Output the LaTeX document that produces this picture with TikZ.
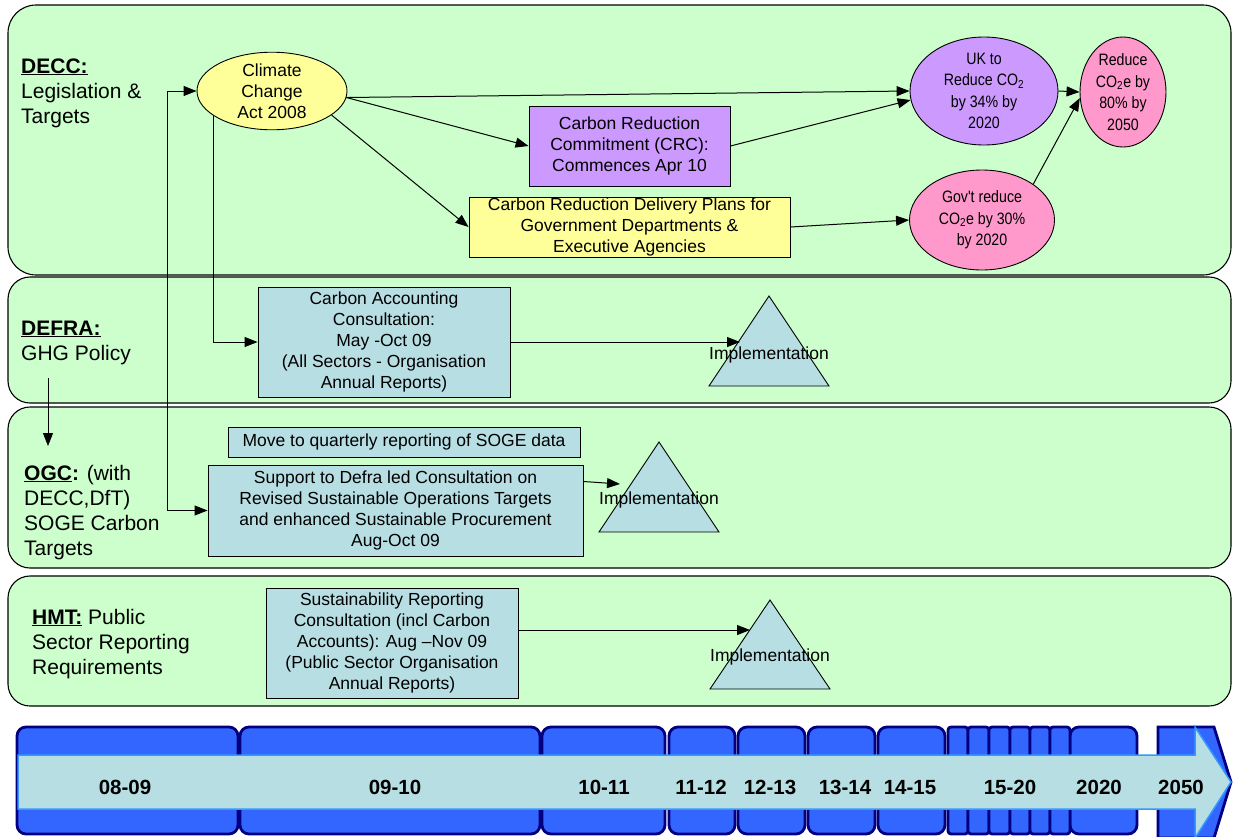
\documentclass[tikz,border=0pt]{standalone}
\usepackage{fontspec}
\setmainfont{Liberation Sans}
\newfontfamily\narrowfont[FakeStretch=0.86]{Liberation Sans}
\usetikzlibrary{arrows.meta,shapes.geometric}
\definecolor{lanegreen}{HTML}{CCFFCC}
\definecolor{boxblue}{HTML}{B7DEE3}
\definecolor{purp}{HTML}{CC99FF}
\definecolor{yel}{HTML}{FFFF99}
\definecolor{pinkfill}{HTML}{FF99CC}
\definecolor{tlblue}{HTML}{3366FF}
\definecolor{tlnavy}{HTML}{000080}
\definecolor{tlline}{HTML}{3399FF}
\begin{document}
\begin{tikzpicture}[x=1pt,y=-1pt,
 lane/.style={draw=black, line width=1.1pt, fill=lanegreen, rounded corners=22pt},
 lanelab/.style={anchor=base west, align=left, inner sep=0pt, font=\fontsize{21}{25}\selectfont},
 box/.style={draw=black, line width=0.9pt, align=center, inner sep=0pt, font=\fontsize{17.5}{21}\selectfont},
 ell/.style={ellipse, draw=black, line width=0.9pt, align=center, inner sep=0pt, font=\narrowfont\fontsize{16.5}{21.5}\selectfont},
 arr/.style={-{Triangle[length=13pt,width=10pt]}, line width=1pt},
 dblarr/.style={{Triangle[length=13pt,width=10pt]}-{Triangle[length=13pt,width=10pt]}, line width=1pt},
 tri/.style={draw=black, line width=0.9pt, fill=boxblue},
 impl/.style={inner sep=0pt, font=\fontsize{17.5}{20}\selectfont},
 tlblock/.style={draw=tlnavy, line width=2.8pt, fill=tlblue, rounded corners=9pt},
 tllab/.style={inner sep=0pt, anchor=base, font=\bfseries\fontsize{20.5}{24}\selectfont}
]
\useasboundingbox (0,0) rectangle (1234,836);

% swimlanes
\path[lane, rounded corners=28pt] (8,5) rectangle (1231,275);
\path[lane] (8,277) rectangle (1231,403);
\path[lane] (8,407) rectangle (1231,568);
\path[lane] (8,576) rectangle (1231,706);

% lane labels (base anchor = baseline of last line)
\node[lanelab] (decc) at (21,123) {\underline{\textbf{DECC:}}\\Legislation \&\\Targets};
\node[lanelab] (defra) at (21,360) {\underline{\textbf{DEFRA:}}\\GHG Policy};
\node[lanelab] (ogc) at (24,555) {\underline{\textbf{OGC}}\textbf{:} (with\\DECC,DfT)\\SOGE Carbon\\Targets};
\node[lanelab] (hmt) at (32,674) {\underline{\textbf{HMT:}} Public\\Sector Reporting\\Requirements};

% DECC nodes
\node[ell, fill=yel, minimum width=150pt, minimum height=66pt, font=\fontsize{17.5}{21}\selectfont] (cca) at (272,91) {Climate\\Change\\Act 2008};
\node[ell, fill=purp, minimum width=148pt, minimum height=108pt] (uk) at (984,91) {UK to\\Reduce CO\textsubscript{2}\\by 34\% by\\2020};
\node[ell, fill=pinkfill, minimum width=86pt, minimum height=110pt] (r80) at (1123,92) {Reduce\\CO\textsubscript{2}e by\\80\% by\\2050};
\node[ell, fill=pinkfill, minimum width=145pt, minimum height=100pt] (gov) at (982,220) {Gov't reduce\\CO\textsubscript{2}e by 30\%\\by 2020};
\node[box, fill=purp, minimum width=201pt, minimum height=80pt] (crc) at (629.5,146) {Carbon Reduction\\Commitment (CRC):\\Commences Apr 10};
\node[box, fill=yel, minimum width=321pt, minimum height=60pt] (cdp) at (629.5,227) {Carbon Reduction Delivery Plans for\\Government Departments \&\\Executive Agencies};

% DEFRA
\node[box, fill=boxblue, minimum width=252pt, minimum height=110pt] (cacc) at (384,342) {Carbon Accounting\\Consultation:\\May -Oct 09\\(All Sectors - Organisation\\Annual Reports)};
\path[tri] (769,296) -- (829,386) -- (709,386) -- cycle;
\node[impl] (impl1) at (769,355) {Implementation};
\coordinate (t1in) at (740,342);

% OGC
\node[box, fill=boxblue, minimum width=352pt, minimum height=30pt] (soge) at (404,442) {Move to quarterly reporting of SOGE data};
\node[box, fill=boxblue, minimum width=375pt, minimum height=91pt] (supp) at (395.5,510.5) {Support to Defra led Consultation on\\Revised Sustainable Operations Targets\\and enhanced Sustainable Procurement\\Aug-Oct 09};
\path[tri] (659,442) -- (719,532) -- (599,532) -- cycle;
\node[impl] (impl2) at (659,500) {Implementation};
\coordinate (t2in) at (620,484);

% HMT
\node[box, fill=boxblue, minimum width=252pt, minimum height=110pt] (sust) at (392,643) {Sustainability Reporting\\Consultation (incl Carbon\\Accounts): Aug –Nov 09\\(Public Sector Organisation\\Annual Reports)};
\path[tri] (770,600) -- (830,689) -- (710,689) -- cycle;
\node[impl] (impl3) at (770,657) {Implementation};
\coordinate (t3in) at (750,630);

% connectors
\draw[arr] (cca.-5) -- (uk.west);
\draw[arr] (cca.-5) -- (crc.west);
\draw[arr] (cca.-22) -- (cdp.west);
\draw[arr] (crc.east) -- (uk.187);
\draw[arr] (cdp.east) -- (gov.west);
\draw[arr] (uk.east) -- (r80.west);
\draw[arr] (gov.35) -- (r80.188);
\draw[dblarr] (supp.west) -- ++(-40,0) |- (cca.west);
\draw[arr] (cca.203.5) |- (cacc.west);
\draw[arr] (cacc.east) -- (t1in);
\draw[arr] ([yshift=29pt]supp.east) -- (t2in);
\draw[arr] ([yshift=13pt]sust.east) -- (t3in);
\coordinate (dstart) at (48,378);
\coordinate (dend) at (48,446);
\draw[arr] (dstart) -- (dend);

% timeline
\foreach \a/\b in {17/238, 240/540, 542/665, 669/735, 738/805, 808/875, 878/945, 1070/1137}
  \path[tlblock] (\a,727) rectangle (\b,834);
\foreach \a/\b in {948/968, 968/989, 989/1010, 1010/1030, 1030/1050, 1050/1070}
  \path[tlblock, rounded corners=3pt] (\a,727) rectangle (\b,834);
\path[draw=tlnavy, line width=2.8pt, fill=tlblue] (1158,727) -- (1214,727) -- (1231,782) -- (1214,838) -- (1158,838) -- cycle;
\path[draw=tlline, line width=1.5pt, fill=boxblue] (18,755) -- (1195,755) -- (1195,727) -- (1231,782) -- (1195,838) -- (1195,809) -- (18,809) -- cycle;
\node[tllab] (y1) at (125,794) {08-09};
\node[tllab] (y2) at (395,794) {09-10};
\node[tllab] (y3) at (604,794) {10-11};
\node[tllab] (y4) at (701,794) {11-12};
\node[tllab] (y5) at (770,794) {12-13};
\node[tllab] (y6) at (845,794) {13-14};
\node[tllab] (y7) at (910,794) {14-15};
\node[tllab] (y8) at (1010,794) {15-20};
\node[tllab] (y9) at (1099,794) {2020};
\node[tllab] (y10) at (1181,794) {2050};
\end{tikzpicture}
\end{document}
